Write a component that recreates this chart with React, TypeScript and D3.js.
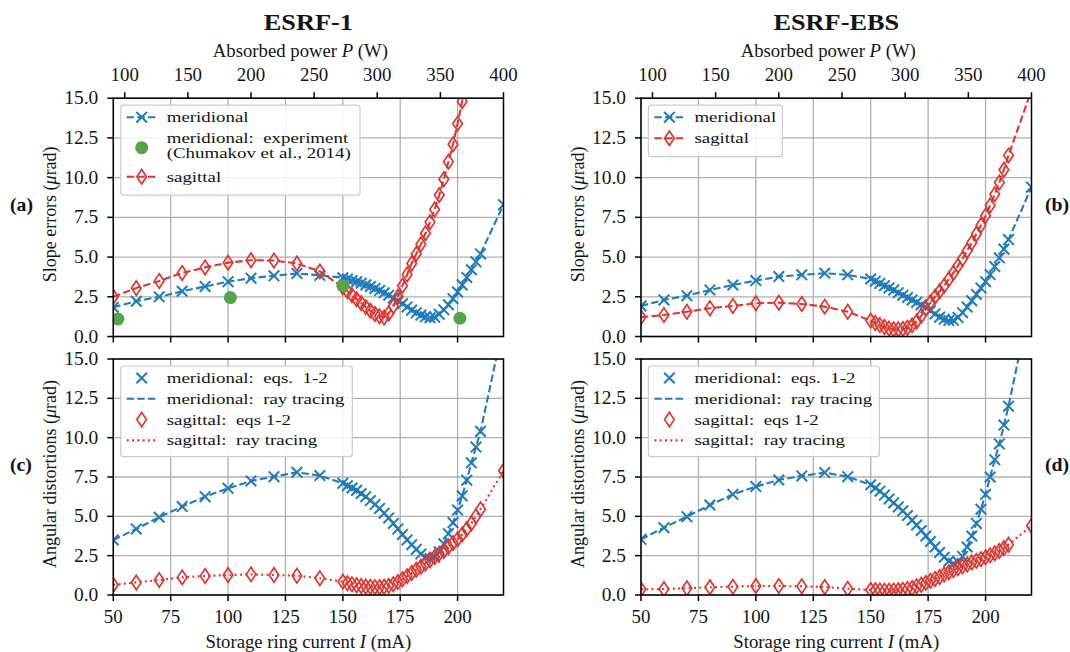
import React, { useEffect, useRef } from "react";
import * as d3 from "d3";

// ---------- data ----------
const currentCoarse = [50, 60, 70, 80, 90, 100, 110, 120, 130, 140];
const currentFine = [150, 152, 154, 156, 158, 160, 162, 164, 166, 168, 170, 172, 174, 176, 178, 180, 182, 184, 186, 188, 190, 192, 194, 196, 198, 200, 202, 204, 206, 208, 210];
const currentEnd = [220];
const currentAll = [...currentCoarse, ...currentFine, ...currentEnd];

const currentTicks = [50, 75, 100, 125, 150, 175, 200];
const powerTicks = [100, 150, 200, 250, 300, 350, 400];
const valueTicks = [0, 2.5, 5, 7.5, 10, 12.5, 15];

// ESRF-1 slope errors
const esrf1SlopeMeridional = [1.84, 2.22, 2.5, 2.85, 3.15, 3.45, 3.67, 3.82, 3.97, 3.85,
  3.7, 3.62, 3.53, 3.44, 3.35, 3.25, 3.14, 3.02, 2.89, 2.75, 2.6, 2.43, 2.25, 2.06, 1.86, 1.66, 1.49, 1.35, 1.24, 1.18, 1.22, 1.4, 1.68, 2.0, 2.38, 2.8, 3.25, 3.72, 4.2, 4.7, 5.2,
  8.3];
const esrf1SlopeSagittal = [2.5, 3.05, 3.5, 4.0, 4.35, 4.65, 4.8, 4.78, 4.6, 4.1,
  3.1, 2.85, 2.6, 2.35, 2.1, 1.85, 1.62, 1.42, 1.27, 1.2, 1.45, 1.9, 2.5, 3.2, 3.9, 4.6, 5.2, 5.8, 6.5, 7.2, 8.0, 8.9, 9.9, 11.0, 12.1, 13.4, 14.8, 16.2];
const experimentCurrent = [52, 101, 150, 201];
const experimentSlope = [1.1, 2.45, 3.2, 1.15];

// ESRF-EBS slope errors
const ebsSlopeMeridional = [1.92, 2.3, 2.57, 2.93, 3.24, 3.52, 3.77, 3.88, 3.98, 3.88,
  3.62, 3.48, 3.34, 3.2, 3.06, 2.92, 2.76, 2.6, 2.45, 2.3, 2.15, 2.0, 1.82, 1.62, 1.42, 1.22, 1.08, 1.0, 1.02, 1.2, 1.5, 1.85, 2.25, 2.65, 3.05, 3.45, 3.9, 4.4, 4.95, 5.5, 6.1,
  9.4];
const ebsSlopeSagittal = [1.21, 1.35, 1.56, 1.78, 1.92, 2.09, 2.13, 2.05, 1.88, 1.56,
  1.0, 0.85, 0.72, 0.6, 0.5, 0.45, 0.45, 0.48, 0.55, 0.7, 0.95, 1.3, 1.75, 2.15, 2.5, 2.85, 3.2, 3.6, 4.0, 4.45, 4.9, 5.4, 5.9, 6.45, 7.0, 7.6, 8.25, 8.95, 9.7, 10.5, 11.4,
  15.5];

// ESRF-1 angular distortions
const esrf1AngMeridional = [3.5, 4.2, 4.94, 5.62, 6.25, 6.78, 7.25, 7.52, 7.8, 7.59,
  7.1, 6.95, 6.8, 6.65, 6.45, 6.25, 6.0, 5.75, 5.5, 5.2, 4.9, 4.55, 4.2, 3.85, 3.5, 3.2, 2.9, 2.6, 2.4, 2.3, 2.4, 2.75, 3.25, 3.9, 4.6, 5.4, 6.3, 7.3, 8.4, 9.4, 10.4,
  17.2];
const esrf1AngSagittal = [0.64, 0.8, 0.95, 1.12, 1.21, 1.27, 1.31, 1.27, 1.23, 1.06,
  0.85, 0.75, 0.68, 0.62, 0.57, 0.54, 0.52, 0.5, 0.5, 0.52, 0.58, 0.68, 0.82, 1.0, 1.2, 1.4, 1.6, 1.8, 2.0, 2.2, 2.42, 2.62, 2.8, 3.05, 3.3, 3.55, 3.85, 4.2, 4.55, 5.0, 5.45,
  7.9];

// ESRF-EBS angular distortions
const ebsAngMeridional = [3.54, 4.28, 4.98, 5.72, 6.4, 6.89, 7.31, 7.57, 7.78, 7.52,
  7.0, 6.8, 6.6, 6.35, 6.1, 5.85, 5.6, 5.35, 5.05, 4.75, 4.45, 4.1, 3.75, 3.4, 3.05, 2.7, 2.4, 2.15, 2.0, 2.1, 2.45, 3.05, 3.75, 4.55, 5.45, 6.4, 7.5, 8.6, 9.6, 10.8, 12.0,
  19.0];
const ebsAngSagittal = [0.36, 0.38, 0.43, 0.49, 0.53, 0.57, 0.57, 0.55, 0.51, 0.4,
  0.32, 0.3, 0.28, 0.27, 0.27, 0.28, 0.3, 0.33, 0.38, 0.45, 0.55, 0.65, 0.77, 0.9, 1.02, 1.15, 1.3, 1.45, 1.58, 1.7, 1.82, 1.94, 2.06, 2.17, 2.28, 2.4, 2.52, 2.65, 2.8, 2.98, 3.2,
  4.4];

// ---------- style ----------
const BLUE = "#1f7bbd";
const RED = "#e0352e";
const GREEN = "#55a448";
const FONT = "'Liberation Serif', 'Times New Roman', serif";
const INK = "#141414";

type Series = { values: number[]; color: string; marker: "x" | "d" | "o" | null; dash: string | null; lineOn: boolean };
type LegendItem = { label: string[]; color: string; marker: "x" | "d" | "o" | null; dash: string | null };
type Part = { t: string; italic?: boolean };

const DASH = "7.4,3.2";
const DOT = "2,3.3";

export default function App() {
  const ref = useRef<SVGSVGElement | null>(null);

  useEffect(() => {
    const svg = d3.select(ref.current);
    svg.selectAll("*").remove();

    const addText = (
      parent: any,
      o: { x: number; y: number; parts: Part[]; size: number; anchor?: string; bold?: boolean; sx?: number; rotate?: boolean }
    ) => {
      const sx = o.sx ?? 1;
      const tr = o.rotate
        ? `translate(${o.x},${o.y}) rotate(-90) scale(1,${sx})`
        : `translate(${o.x},${o.y}) scale(${sx},1)`;
      const t = parent.append("text").attr("transform", tr).attr("x", 0).attr("y", 0)
        .attr("text-anchor", o.anchor ?? "start").attr("font-family", FONT)
        .attr("font-size", o.size).attr("fill", INK)
        .attr("font-weight", o.bold ? "bold" : "normal")
        .style("white-space", "pre");
      o.parts.forEach((p) => {
        const ts = t.append("tspan").text(p.t);
        if (p.italic) ts.attr("font-style", "italic");
      });
      return t;
    };

    const cols = [
      { x0: 113.3, x1: 503.5, title: "ESRF-1" },
      { x0: 641, x1: 1031.5, title: "ESRF-EBS" },
    ];
    const rows = [
      { y0: 98.2, y1: 336.5 },
      { y0: 359, y1: 595 },
    ];

    const panels = [
      {
        col: 0, row: 0, tag: "(a)", ylabel: "Slope errors",
        series: [
          { values: esrf1SlopeMeridional, color: BLUE, marker: "x", dash: DASH, lineOn: true },
          { values: esrf1SlopeSagittal, color: RED, marker: "d", dash: DASH, lineOn: true },
        ] as Series[],
        experiment: true,
        legend: { w: 239.3, rows: [
          { label: ["meridional"], color: BLUE, marker: "x", dash: DASH },
          { label: ["meridional:  experiment", "(Chumakov et al., 2014)"], color: GREEN, marker: "o", dash: null },
          { label: ["sagittal"], color: RED, marker: "d", dash: DASH },
        ] as LegendItem[] },
      },
      {
        col: 1, row: 0, tag: "(b)", ylabel: "Slope errors",
        series: [
          { values: ebsSlopeMeridional, color: BLUE, marker: "x", dash: DASH, lineOn: true },
          { values: ebsSlopeSagittal, color: RED, marker: "d", dash: DASH, lineOn: true },
        ] as Series[],
        experiment: false,
        legend: { w: 134, rows: [
          { label: ["meridional"], color: BLUE, marker: "x", dash: DASH },
          { label: ["sagittal"], color: RED, marker: "d", dash: DASH },
        ] as LegendItem[] },
      },
      {
        col: 0, row: 1, tag: "(c)", ylabel: "Angular distortions",
        series: [
          { values: esrf1AngMeridional, color: BLUE, marker: null, dash: DASH, lineOn: true },
          { values: esrf1AngSagittal, color: RED, marker: null, dash: DOT, lineOn: true },
          { values: esrf1AngMeridional, color: BLUE, marker: "x", dash: null, lineOn: false },
          { values: esrf1AngSagittal, color: RED, marker: "d", dash: null, lineOn: false },
        ] as Series[],
        experiment: false,
        legend: { w: 231.6, rows: [
          { label: ["meridional:  eqs.  1-2"], color: BLUE, marker: "x", dash: null },
          { label: ["meridional:  ray tracing"], color: BLUE, marker: null, dash: DASH },
          { label: ["sagittal:  eqs 1-2"], color: RED, marker: "d", dash: null },
          { label: ["sagittal:  ray tracing"], color: RED, marker: null, dash: DOT },
        ] as LegendItem[] },
      },
      {
        col: 1, row: 1, tag: "(d)", ylabel: "Angular distortions",
        series: [
          { values: ebsAngMeridional, color: BLUE, marker: null, dash: DASH, lineOn: true },
          { values: ebsAngSagittal, color: RED, marker: null, dash: DOT, lineOn: true },
          { values: ebsAngMeridional, color: BLUE, marker: "x", dash: null, lineOn: false },
          { values: ebsAngSagittal, color: RED, marker: "d", dash: null, lineOn: false },
        ] as Series[],
        experiment: false,
        legend: { w: 231, rows: [
          { label: ["meridional:  eqs.  1-2"], color: BLUE, marker: "x", dash: null },
          { label: ["meridional:  ray tracing"], color: BLUE, marker: null, dash: DASH },
          { label: ["sagittal:  eqs 1-2"], color: RED, marker: "d", dash: null },
          { label: ["sagittal:  ray tracing"], color: RED, marker: null, dash: DOT },
        ] as LegendItem[] },
      },
    ];

    const crossPath = (s: number) => `M${-s},${-s}L${s},${s}M${-s},${s}L${s},${-s}`;
    const diamondPath = (w: number, h: number) => `M0,${-h}L${w},0L0,${h}L${-w},0Z`;

    const drawMarker = (g: any, type: string, x: number, y: number, color: string) => {
      if (type === "x") {
        g.append("path").attr("d", crossPath(5.3)).attr("transform", `translate(${x},${y})`)
          .attr("stroke", color).attr("stroke-width", 2).attr("fill", "none");
      } else if (type === "d") {
        g.append("path").attr("d", diamondPath(4.8, 7.2)).attr("transform", `translate(${x},${y})`)
          .attr("stroke", color).attr("stroke-width", 1.7).attr("fill", "none");
      } else if (type === "o") {
        g.append("circle").attr("cx", x).attr("cy", y).attr("r", 6.5).attr("fill", color);
      }
    };

    panels.forEach((p, i) => {
      const c = cols[p.col];
      const r = rows[p.row];
      const x = d3.scaleLinear().domain([50, 220]).range([c.x0, c.x1]);
      const xp = d3.scaleLinear().domain([(50 * 400) / 220, 400]).range([c.x0, c.x1]);
      const y = d3.scaleLinear().domain([0, 15]).range([r.y1, r.y0]);

      const clipId = `clip${i}`;
      svg.append("clipPath").attr("id", clipId).append("rect")
        .attr("x", c.x0).attr("y", r.y0).attr("width", c.x1 - c.x0).attr("height", r.y1 - r.y0);

      const g = svg.append("g");
      // grid
      currentTicks.forEach((t) => {
        g.append("line").attr("x1", x(t)).attr("x2", x(t)).attr("y1", r.y0).attr("y2", r.y1)
          .attr("stroke", "#b0b0b0").attr("stroke-width", 1.3);
      });
      valueTicks.forEach((t) => {
        g.append("line").attr("x1", c.x0).attr("x2", c.x1).attr("y1", y(t)).attr("y2", y(t))
          .attr("stroke", "#b0b0b0").attr("stroke-width", 1.3);
      });

      const data = svg.append("g").attr("clip-path", `url(#${clipId})`);
      p.series.forEach((s) => {
        const pts = s.values.map((v, k) => [currentAll[k], v] as [number, number]);
        if (s.lineOn) {
          const line = d3.line<[number, number]>().x((d) => x(d[0])).y((d) => y(d[1]));
          data.append("path").attr("d", line(pts) as string).attr("fill", "none")
            .attr("stroke", s.color).attr("stroke-width", 2.1)
            .attr("stroke-dasharray", s.dash ?? null);
        }
        if (s.marker) {
          pts.forEach((d) => drawMarker(data, s.marker as string, x(d[0]), y(d[1]), s.color));
        }
      });
      if (p.experiment) {
        experimentCurrent.forEach((cur, k) => drawMarker(data, "o", x(cur), y(experimentSlope[k]), GREEN));
      }

      // legend
      const lx = c.x0 + 7.4;
      const ly = r.y0 + 7;
      const lg = svg.append("g");
      let rowY = ly + 12;
      const rowCenters: number[] = [];
      p.legend.rows.forEach((item) => {
        if (item.label.length === 2) {
          rowCenters.push(rowY + 9.5);
          rowY += 38.5;
        } else {
          rowCenters.push(rowY);
          rowY += p.row === 1 ? 20.8 : 21;
        }
      });
      const lh = rowY - ly - 2.5 - (p.row === 1 ? 2 : 0);
      lg.append("rect").attr("x", lx).attr("y", ly).attr("width", p.legend.w).attr("height", lh)
        .attr("rx", 3).attr("fill", "white").attr("fill-opacity", 0.85)
        .attr("stroke", "#cccccc").attr("stroke-width", 1.2);
      p.legend.rows.forEach((item, k) => {
        const cy = rowCenters[k];
        const hx0 = lx + 6;
        const hx1 = lx + 36;
        if (item.dash) {
          lg.append("line").attr("x1", hx0).attr("x2", hx1).attr("y1", cy).attr("y2", cy)
            .attr("stroke", item.color).attr("stroke-width", 2.1).attr("stroke-dasharray", item.dash);
        }
        if (item.marker) drawMarker(lg, item.marker, (hx0 + hx1) / 2, cy, item.color);
        item.label.forEach((t, j) => {
          const ty = item.label.length === 2 ? cy - 4.3 + j * 15 : cy + 5;
          addText(lg, { x: lx + 46, y: ty, parts: [{ t }], size: 15, sx: 1.26 });
        });
      });

      // frame
      svg.append("rect").attr("x", c.x0).attr("y", r.y0).attr("width", c.x1 - c.x0).attr("height", r.y1 - r.y0)
        .attr("fill", "none").attr("stroke", "black").attr("stroke-width", 1.5);

      // y ticks
      valueTicks.forEach((t) => {
        svg.append("line").attr("x1", c.x0 - 6).attr("x2", c.x0).attr("y1", y(t)).attr("y2", y(t))
          .attr("stroke", "black").attr("stroke-width", 1.5);
        addText(svg, { x: c.x0 - 15, y: y(t) + 6, parts: [{ t: d3.format(".1f")(t) }], size: 18, anchor: "end", sx: 1.08 });
      });
      // x ticks bottom
      currentTicks.forEach((t) => {
        svg.append("line").attr("x1", x(t)).attr("x2", x(t)).attr("y1", r.y1).attr("y2", r.y1 + 6)
          .attr("stroke", "black").attr("stroke-width", 1.5);
        if (p.row === 1) {
          addText(svg, { x: x(t), y: r.y1 + 28, parts: [{ t: String(t) }], size: 18, anchor: "middle", sx: 1.05 });
        }
      });
      if (p.row === 0) {
        powerTicks.forEach((t) => {
          svg.append("line").attr("x1", xp(t)).attr("x2", xp(t)).attr("y1", r.y0 - 6).attr("y2", r.y0)
            .attr("stroke", "black").attr("stroke-width", 1.5);
          addText(svg, { x: xp(t), y: r.y0 - 17, parts: [{ t: String(t) }], size: 18, anchor: "middle", sx: 1.05 });
        });
        addText(svg, {
          x: (c.x0 + c.x1) / 2 - 8, y: 57, size: 18, anchor: "middle", sx: 1.04,
          parts: [{ t: "Absorbed power " }, { t: "P", italic: true }, { t: " (W)" }],
        });
        addText(svg, { x: (c.x0 + c.x1) / 2, y: 30, size: 23.5, anchor: "middle", sx: 1.12, bold: true, parts: [{ t: c.title }] });
      } else {
        addText(svg, {
          x: (c.x0 + c.x1) / 2, y: 648, size: 18, anchor: "middle", sx: 1.04,
          parts: [{ t: "Storage ring current " }, { t: "I", italic: true }, { t: " (mA)" }],
        });
      }

      // y label
      const cy = (r.y0 + r.y1) / 2;
      addText(svg, {
        x: c.x0 - 57, y: cy - 3, size: 18, anchor: "middle", sx: 1.05, rotate: true,
        parts: [{ t: p.ylabel + " (" }, { t: "μ", italic: true }, { t: "rad)" }],
      });

      // panel tag
      const tagX = p.col === 0 ? 10 : 1045;
      addText(svg, { x: tagX, y: cy - 6, size: 18, bold: true, sx: 1.1, parts: [{ t: p.tag }] });
    });
  }, []);

  return (
    <div style={{ position: "absolute", left: 0, top: 0 }}>
      <svg ref={ref} width={1070} height={652} style={{ display: "block", background: "white" }} />
    </div>
  );
}
